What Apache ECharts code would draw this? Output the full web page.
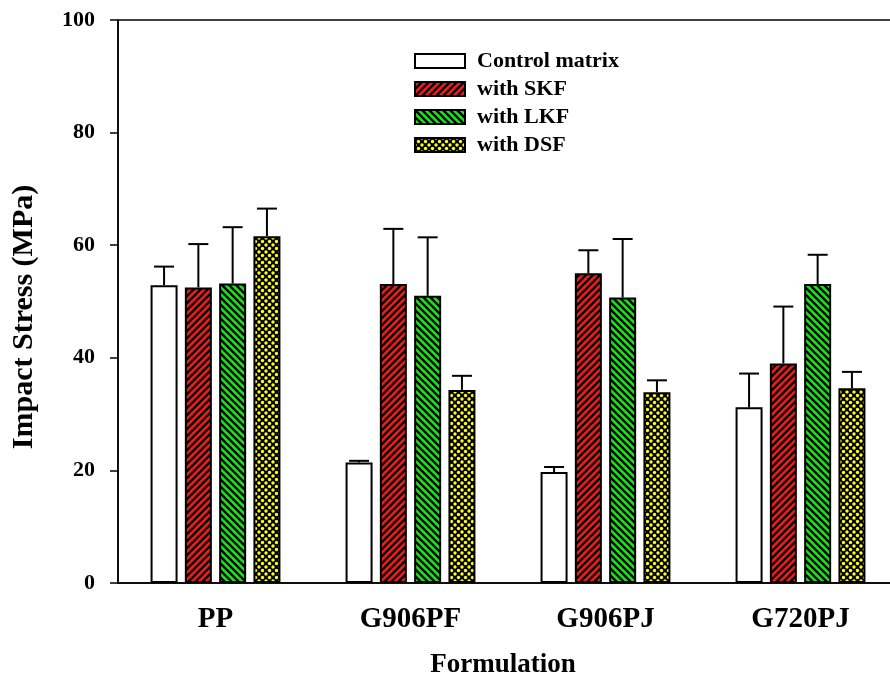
<!DOCTYPE html>
<html>
<head>
<meta charset="utf-8">
<script src="https://cdn.jsdelivr.net/npm/echarts@6/dist/echarts.min.js"></script>
<style>
  html, body { margin: 0; padding: 0; background: #fff; overflow: hidden; }
  #chart { width: 904px; height: 681px; }
</style>
</head>
<body>
<div id="chart"></div>
<script>
// Formulations on the x axis
const categories = ['PP', 'G906PF', 'G906PJ', 'G720PJ'];
const seriesNames = ['Control matrix', 'with SKF', 'with LKF', 'with DSF'];

// Mean impact stress (MPa) and upper error (MPa) per formulation
const controlMean = [52.9, 21.4, 19.7, 31.2];
const controlErr  = [3.3, 0.3, 0.9, 6.0];
const skfMean     = [52.5, 53.1, 55.0, 39.0];
const skfErr      = [7.7, 9.8, 4.1, 10.1];
const lkfMean     = [53.2, 51.0, 50.7, 53.1];
const lkfErr      = [10.0, 10.4, 10.4, 5.2];
const dsfMean     = [61.6, 34.3, 33.9, 34.6];
const dsfErr      = [4.9, 2.5, 2.1, 2.9];

const yTicks = [0, 20, 40, 60, 80, 100];

const FONT = '"Liberation Serif", "Times New Roman", serif';
const BAR_W = 27;
const GAP_RATIO = 0.27;

// Fill patterns drawn on small canvas tiles
function stripeTile(bg, forward) {
  const s = 7;
  const c = document.createElement('canvas');
  c.width = s; c.height = s;
  const g = c.getContext('2d');
  g.fillStyle = bg; g.fillRect(0, 0, s, s);
  g.strokeStyle = '#000'; g.lineWidth = 2.3;
  g.beginPath();
  if (forward) {
    g.moveTo(0, s); g.lineTo(s, 0);
    g.moveTo(-1, 1); g.lineTo(1, -1);
    g.moveTo(s - 1, s + 1); g.lineTo(s + 1, s - 1);
  } else {
    g.moveTo(0, 0); g.lineTo(s, s);
    g.moveTo(s - 1, -1); g.lineTo(s + 1, 1);
    g.moveTo(-1, s - 1); g.lineTo(1, s + 1);
  }
  g.stroke();
  return c;
}
function dotTile() {
  const s = 7;
  const c = document.createElement('canvas');
  c.width = s; c.height = s;
  const g = c.getContext('2d');
  g.fillStyle = '#000'; g.fillRect(0, 0, s, s);
  g.fillStyle = '#ffff10';
  const pts = [[s / 2, s / 2], [0, 0], [s, 0], [0, s], [s, s]];
  pts.forEach(p => {
    g.beginPath(); g.arc(p[0], p[1], 1.7, 0, Math.PI * 2); g.fill();
  });
  return c;
}

const fills = [
  '#ffffff',
  { image: stripeTile('#f41a1a', true), repeat: 'repeat' },
  { image: stripeTile('#16e616', false), repeat: 'repeat' },
  { image: dotTile(), repeat: 'repeat' }
];

const means = [controlMean, skfMean, lkfMean, dsfMean];
const errs = [controlErr, skfErr, lkfErr, dsfErr];

const gapPx = BAR_W * GAP_RATIO;
const groupW = 4 * BAR_W + 3 * gapPx;
function barOffset(i) {
  return -groupW / 2 + i * (BAR_W + gapPx) + BAR_W / 2;
}

const series = [];
means.forEach((m, i) => {
  series.push({
    name: seriesNames[i],
    type: 'bar',
    data: m,
    barWidth: BAR_W,
    barGap: (GAP_RATIO * 100) + '%',
    itemStyle: { color: fills[i], borderColor: '#000', borderWidth: 2 },
    emphasis: { disabled: true },
    z: 2
  });
});
// Upper error bars with caps
means.forEach((m, i) => {
  series.push({
    name: 'err' + i,
    type: 'custom',
    z: 3,
    silent: true,
    data: m.map((v, k) => [k, v, errs[i][k]]),
    renderItem: function (params, api) {
      const k = api.value(0);
      const base = api.coord([k, api.value(1)]);
      const top = api.coord([k, api.value(1) + api.value(2)]);
      const x = base[0] + barOffset(i);
      const st = { stroke: '#000', lineWidth: 2 };
      return {
        type: 'group',
        children: [
          { type: 'line', shape: { x1: x, y1: base[1], x2: x, y2: top[1] }, style: st },
          { type: 'line', shape: { x1: x - 10, y1: top[1], x2: x + 10, y2: top[1] }, style: st }
        ]
      };
    }
  });
});

const chart = echarts.init(document.getElementById('chart'), null, { renderer: 'canvas' });
chart.setOption({
  backgroundColor: '#fff',
  animation: false,
  grid: { left: 118, top: 20, width: 780, height: 563, show: true, borderColor: '#000', borderWidth: 1.5, backgroundColor: 'transparent' },
  legend: {
    data: seriesNames,
    orient: 'vertical',
    left: 409,
    top: 45,
    itemWidth: 50,
    itemHeight: 14,
    itemGap: 6,
    icon: 'rect',
    selectedMode: false,
    itemStyle: { borderColor: '#000', borderWidth: 2 },
    textStyle: { fontFamily: FONT, fontWeight: 'bold', fontSize: 22, lineHeight: 22, color: '#000', padding: [0, 0, 0, 7] }
  },
  graphic: [{
    type: 'text',
    x: 24,
    y: 317,
    rotation: Math.PI / 2,
    style: {
      text: 'Impact Stress (MPa)',
      fontFamily: FONT, fontWeight: 'bold', fontSize: 30, fill: '#000',
      align: 'center', verticalAlign: 'middle'
    }
  }, {
    type: 'text',
    x: 503,
    y: 665,
    style: {
      text: 'Formulation',
      fontFamily: FONT, fontWeight: 'bold', fontSize: 27, fill: '#000',
      align: 'center', verticalAlign: 'middle'
    }
  }],
  xAxis: {
    type: 'category',
    data: categories,
    axisLine: { lineStyle: { color: '#000', width: 1.5 } },
    axisTick: { alignWithLabel: true, length: 7, lineStyle: { color: '#000', width: 1.5 } },
    axisLabel: { fontFamily: FONT, fontWeight: 'bold', fontSize: 29, color: '#000', margin: 22 }
  },
  yAxis: {
    type: 'value',
    min: yTicks[0],
    max: yTicks[yTicks.length - 1],
    interval: 20,
    axisLine: { show: true, lineStyle: { color: '#000', width: 1.5 } },
    axisTick: { show: true, length: 8, lineStyle: { color: '#000', width: 1.5 } },
    axisLabel: { fontFamily: FONT, fontWeight: 'bold', fontSize: 22, color: '#000', margin: 23 },
    splitLine: { show: false }
  },
  series: series
});
</script>
</body>
</html>
